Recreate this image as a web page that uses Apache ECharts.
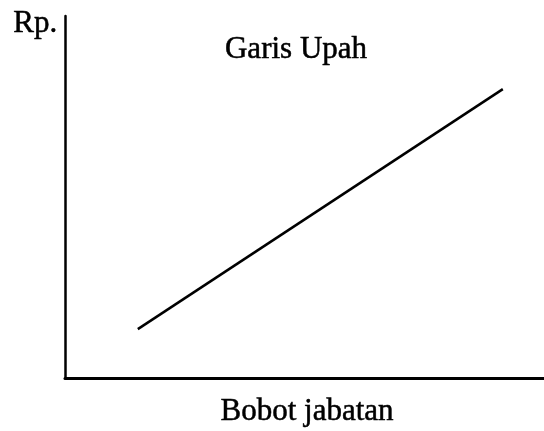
<!DOCTYPE html>
<html>
<head>
<meta charset="utf-8">
<script src="https://cdn.jsdelivr.net/npm/echarts@6/dist/echarts.min.js"></script>
<style>
  html, body { margin: 0; padding: 0; background: #fff; }
  #chart { width: 544px; height: 431px; }
</style>
</head>
<body>
<div id="chart"></div>
<script>
// wage line (axis runs 0..100 on both sides)
const bobotJabatan = [15.2, 91.4]
const upah = [13.5, 79.8]

const titleText = 'Garis Upah'
const yLabel = 'Rp.'
const xLabel = 'Bobot jabatan'

const font = '"Liberation Serif", "Times New Roman", serif'
// scanned print looks a touch heavier than plain regular
const textStyle = { font: `31px ${font}`, fill: '#000', stroke: '#000', lineWidth: 0.5 }

const chart = echarts.init(document.getElementById('chart'))

chart.setOption({
  animation: false,
  backgroundColor: '#fff',
  grid: { left: 65, right: 0, top: 16, bottom: 53 },
  xAxis: {
    type: 'value',
    min: 0,
    max: 100,
    axisLine: { show: true, onZero: false, lineStyle: { color: '#000', width: 3 } },
    axisTick: { show: false },
    axisLabel: { show: false },
    splitLine: { show: false },
  },
  yAxis: {
    type: 'value',
    min: 0,
    max: 100,
    axisLine: { show: true, onZero: false, lineStyle: { color: '#000', width: 2.5 } },
    axisTick: { show: false },
    axisLabel: { show: false },
    splitLine: { show: false },
  },
  series: [
    {
      type: 'line',
      data: bobotJabatan.map((x, i) => [x, upah[i]]),
      symbol: 'none',
      lineStyle: { color: '#000', width: 2.5 },
    },
  ],
  graphic: [
    {
      type: 'text',
      left: 13,
      top: 8,
      style: { ...textStyle, text: yLabel },
    },
    {
      type: 'text',
      x: 296,
      y: 34,
      style: { ...textStyle, text: titleText, textAlign: 'center' },
    },
    {
      type: 'text',
      x: 307,
      y: 396,
      style: { ...textStyle, text: xLabel, textAlign: 'center' },
    },
  ],
})
</script>
</body>
</html>
